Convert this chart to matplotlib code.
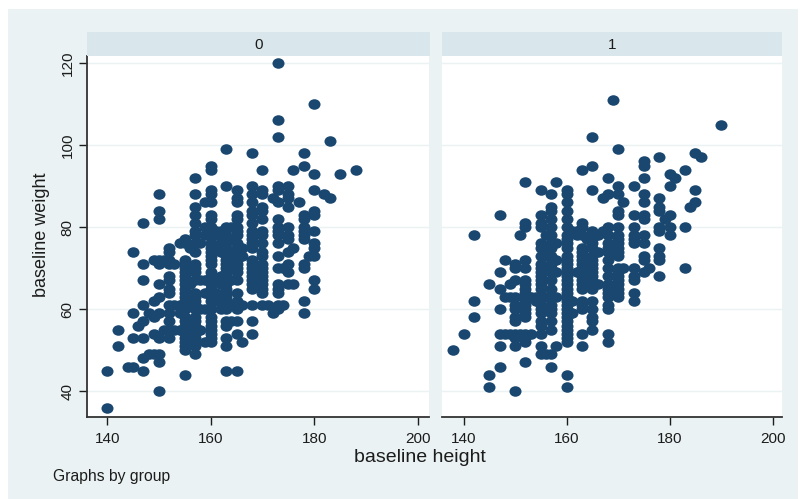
import matplotlib
matplotlib.use("Agg")
import matplotlib.pyplot as plt
from matplotlib.markers import MarkerStyle
from matplotlib.patches import Rectangle
from matplotlib.transforms import Affine2D

# weights per height column
group_0 = {
    140: [36, 45],
    142: [51, 55],
    144: [46],
    145: [46, 53, 59, 74],
    146: [56],
    147: [45, 48, 53, 57, 61, 67, 71, 81],
    148: [49, 59],
    149: [49, 54, 58, 62, 72],
    150: [40, 47, 49, 53, 59, 63, 66, 71, 72, 82, 84, 88],
    151: [55, 72],
    152: [53, 55, 57, 59, 61, 64, 65, 67, 68, 71, 72, 74, 75],
    153: [55, 61, 71],
    154: [55, 59, 61, 76],
    155: [44, 50, 51, 52, 53, 54, 55, 56, 57, 58, 60, 61, 62, 63, 64, 65, 66, 67, 68, 69, 70, 71, 72, 76, 77],
    156: [61, 66, 75],
    157: [49, 51, 52, 53, 54, 55, 56, 57, 58, 60, 61, 62, 63, 64, 67, 69, 70, 71, 74, 76, 78, 79, 81, 83, 85, 88, 92],
    158: [55, 60, 67, 76],
    159: [52, 60, 64, 67, 78, 80, 86],
    160: [52, 53, 54, 55, 56, 57, 58, 60, 62, 63, 65, 66, 68, 69, 71, 72, 73, 74, 75, 76, 78, 80, 82, 83, 86, 88, 89, 94, 95],
    161: [62, 64, 67, 75, 78, 79],
    162: [60, 63, 66, 68, 74, 76, 79],
    163: [45, 51, 53, 56, 57, 60, 61, 62, 63, 64, 65, 66, 67, 68, 69, 70, 71, 72, 73, 74, 75, 76, 77, 78, 80, 90, 99],
    164: [57, 61, 67, 72, 74, 77, 80],
    165: [45, 54, 57, 60, 61, 62, 64, 67, 69, 70, 71, 72, 73, 74, 75, 76, 78, 79, 80, 82, 83, 86, 87, 89],
    166: [52, 61, 73, 75],
    168: [54, 57, 61, 65, 66, 67, 68, 69, 70, 71, 72, 75, 76, 77, 78, 79, 81, 83, 84, 86, 88, 90, 98],
    170: [61, 64, 65, 66, 67, 68, 69, 70, 71, 73, 74, 76, 78, 79, 82, 84, 85, 88, 89, 94],
    171: [61],
    172: [59, 87],
    173: [60, 61, 64, 65, 66, 70, 73, 76, 78, 79, 80, 82, 86, 89, 90, 102, 106, 120],
    174: [70, 61],
    175: [66, 69, 71, 74, 77, 78, 80, 85, 87, 88, 90],
    176: [66, 75, 94],
    177: [86],
    178: [59, 62, 70, 71, 77, 78, 79, 80, 82, 83, 95, 98],
    179: [73],
    180: [65, 67, 73, 75, 76, 79, 83, 84, 89, 93, 110],
    182: [88],
    183: [87, 101],
    185: [93],
    188: [94],
}

group_1 = {
    138: [50],
    140: [54],
    142: [58, 62, 78],
    145: [41, 44, 66],
    147: [46, 51, 54, 60, 65, 69, 83],
    148: [54, 63, 72],
    149: [54, 63, 66],
    150: [40, 51, 53, 54, 57, 58, 60, 61, 63, 67, 70, 71],
    151: [54, 78],
    152: [47, 52, 53, 54, 58, 59, 60, 61, 62, 63, 64, 65, 66, 67, 70, 72, 80, 81, 91],
    153: [54, 63],
    154: [62, 63],
    155: [49, 51, 54, 56, 57, 59, 60, 61, 63, 65, 66, 67, 68, 69, 70, 71, 73, 75, 76, 80, 81, 83, 89],
    156: [49, 63, 73, 75, 78],
    157: [46, 49, 55, 57, 59, 60, 61, 63, 65, 67, 69, 70, 71, 73, 75, 76, 78, 80, 82, 84, 85, 88],
    158: [51, 63, 69, 72, 76, 91],
    160: [41, 44, 52, 53, 54, 55, 56, 57, 58, 59, 60, 61, 62, 63, 64, 65, 66, 67, 68, 69, 70, 71, 72, 73, 75, 76, 77, 78, 80, 82, 84, 86, 88, 89],
    161: [59, 62, 79],
    162: [69, 78, 79],
    163: [51, 54, 60, 61, 62, 65, 66, 67, 68, 70, 71, 72, 73, 74, 75, 78, 80, 81, 94],
    164: [69, 77],
    165: [55, 57, 58, 60, 62, 65, 66, 67, 68, 69, 70, 71, 72, 73, 75, 76, 77, 78, 79, 89, 95, 102],
    166: [66, 74, 78],
    167: [79, 87],
    168: [52, 54, 60, 61, 63, 64, 65, 66, 68, 70, 72, 74, 75, 76, 78, 80, 88, 92],
    169: [111, 74],
    170: [63, 64, 65, 66, 67, 68, 69, 70, 73, 74, 75, 76, 77, 78, 80, 83, 84, 88, 90, 99],
    171: [70, 86],
    173: [62, 64, 67, 68, 70, 76, 77, 78, 80, 83, 90],
    175: [69, 72, 73, 76, 78, 82, 83, 86, 88, 95, 96, 92],
    176: [70],
    178: [68, 72, 73, 75, 79, 80, 84, 85, 87, 97],
    179: [82],
    180: [78, 80, 83, 90, 93],
    181: [92],
    183: [70, 80, 94],
    184: [85],
    185: [86, 89, 98],
    186: [97],
    190: [105],
}

groups = [group_0, group_1]
panel_names = ["0", "1"]
x_ticks = [140, 160, 180, 200]
y_ticks = [40, 60, 80, 100, 120]

W, H = 802, 499
NAVY = "#1a476f"
BG = "#eaf2f3"
STRIP = "#d9e6eb"
INK = "#1c1c1c"

plt.rcParams["font.family"] = "Liberation Sans"


def box(l, t, r, b):
    # pixel box to figure fractions
    return [l / W, 1 - b / H, (r - l) / W, (b - t) / H]


# the dots in the reference are a bit wider than tall
oval = MarkerStyle("o", transform=Affine2D().scale(1.12, 0.98))

fig = plt.figure(figsize=(W / 100, H / 100), dpi=100, facecolor="white")
fig.add_artist(Rectangle((8 / W, 0), 790 / W, 1 - 9 / H, transform=fig.transFigure,
                         facecolor=BG, edgecolor="none", zorder=-5))

panels = [(87, 429, 136.1, 202.2), (442, 782, 135.8, 201.8)]
for i, (left, right, x0, x1) in enumerate(panels):
    ax = fig.add_axes(box(left, 56, right, 417))
    xs, ys = [], []
    for height, weights in groups[i].items():
        xs += [height] * len(weights)
        ys += weights
    ax.scatter(xs, ys, s=60, marker=oval, color=NAVY, linewidths=0, zorder=3, clip_on=False)
    ax.set_xlim(x0, x1)
    ax.set_ylim(33.7, 121.7)
    ax.set_xticks(x_ticks)
    ax.set_yticks(y_ticks)
    ax.grid(axis="y", color=BG, linewidth=1.0, zorder=0)
    ax.set_axisbelow(True)
    for side in ["top", "right"]:
        ax.spines[side].set_visible(False)
    ax.spines["bottom"].set_color("#333333")
    ax.spines["bottom"].set_linewidth(1.3)
    ax.tick_params(axis="x", length=6, width=1, color=INK, labelsize=11, pad=5, labelcolor=INK)
    if i == 0:
        ax.spines["left"].set_color("#333333")
        ax.spines["left"].set_linewidth(1.3)
        ax.tick_params(axis="y", length=6, width=1, color=INK, labelsize=11, pad=3, labelcolor=INK)
        for lab in ax.get_yticklabels():
            lab.set_rotation(90)
            lab.set_va("center")
    else:
        ax.spines["left"].set_visible(False)
        ax.tick_params(axis="y", length=0, labelleft=False)

    strip = fig.add_axes(box(left, 32, right + (1 if i == 0 else 0), 56))
    strip.set_facecolor(STRIP)
    strip.set_xticks([])
    strip.set_yticks([])
    for s in strip.spines.values():
        s.set_visible(False)
    strip.text(0.5, 0.47, panel_names[i], ha="center", va="center", fontsize=11,
               color=INK, transform=strip.transAxes)

fig.text(420 / W, 1 - 457 / H, "baseline height", ha="center", va="center", fontsize=14, color=INK)
fig.text(41 / W, 1 - 235 / H, "baseline weight", ha="center", va="center", rotation=90, fontsize=13, color=INK)
fig.text(53 / W, 1 - 477 / H, "Graphs by group", ha="left", va="center", fontsize=11.3, color=INK)

fig.savefig("out.png", dpi=100, facecolor=fig.get_facecolor())
